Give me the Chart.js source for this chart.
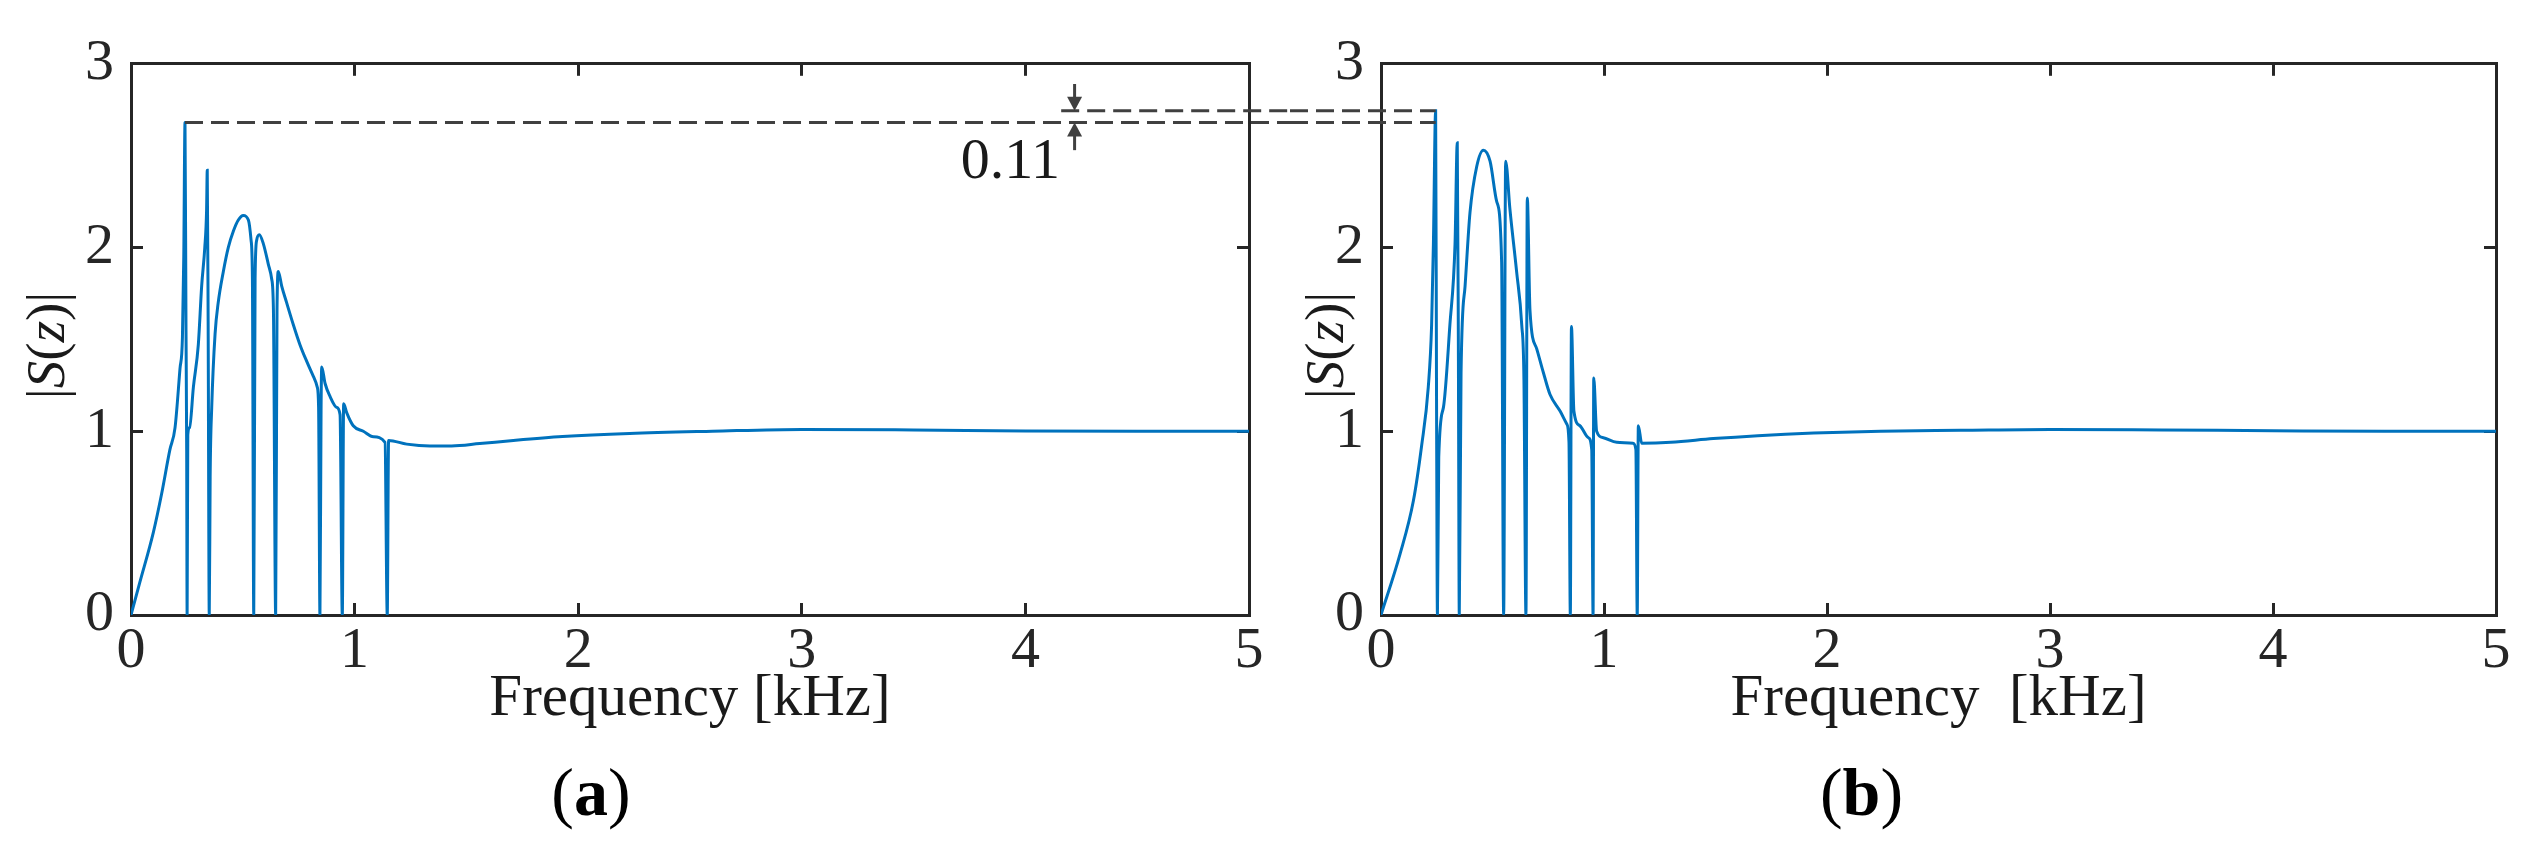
<!DOCTYPE html>
<html>
<head>
<meta charset="utf-8">
<script src="https://cdn.jsdelivr.net/npm/chart.js@4.4.1/dist/chart.umd.min.js"></script>
<style>
  html, body { margin: 0; padding: 0; background: #fff; }
  #wrap { position: relative; width: 2531px; height: 849px; }
  canvas { position: absolute; top: 0; }
  #chartA { left: 0; }
  #chartB { left: 1290px; }
</style>
</head>
<body>
<div id="wrap">
  <canvas id="chartA" width="1290" height="849"></canvas>
  <canvas id="chartB" width="1241" height="849"></canvas>
</div>
<script>
// panel (a): frequency [kHz] and |S(z)|
const freqA = [0, 0.04, 0.10, 0.137, 0.174, 0.197, 0.219, 0.230, 0.236, 0.2415, 0.246, 0.249, 0.251, 0.254, 0.262,
  0.279, 0.301, 0.316, 0.330, 0.338, 0.341, 0.345, 0.350, 0.354, 0.361, 0.376, 0.390, 0.413, 0.435, 0.458, 0.480,
  0.502, 0.525, 0.537, 0.543, 0.549, 0.555, 0.562, 0.574, 0.592, 0.614, 0.629, 0.637, 0.647, 0.653, 0.659, 0.674,
  0.696, 0.726, 0.756, 0.786, 0.815, 0.833, 0.839, 0.845, 0.850, 0.853, 0.868, 0.890, 0.920, 0.935, 0.945, 0.951,
  0.965, 0.994, 1.039, 1.084, 1.136, 1.146, 1.152, 1.233, 1.337, 1.434, 1.56, 1.71, 1.93, 2.23, 2.6, 3.0, 3.5, 4.0, 4.5, 5.0];
const magA = [0, 0.18, 0.45, 0.66, 0.90, 1.02, 1.34, 1.51, 1.95, 2.68, 1.55, 0.9, 0, 0.98, 1.02,
  1.24, 1.47, 1.79, 2.0, 2.2, 2.42, 1.6, 0, 0.75, 1.13, 1.53, 1.70, 1.87, 2.00, 2.09, 2.15,
  2.175, 2.15, 2.04, 1.83, 0, 1.83, 2.04, 2.07, 2.02, 1.91, 1.83, 1.66, 0, 1.66, 1.87, 1.79,
  1.70, 1.58, 1.47, 1.38, 1.30, 1.24, 1.13, 0, 1.11, 1.35, 1.26, 1.19, 1.13, 1.09, 0, 1.15,
  1.10, 1.03, 1.00, 0.97, 0.94, 0, 0.95, 0.93, 0.92, 0.92, 0.933, 0.95, 0.971, 0.988, 1.0, 1.01, 1.007, 1.002, 1.0, 1.0];

// panel (b)
const freqB = [0, 0.085, 0.145, 0.182, 0.212, 0.227, 0.235, 0.245, 0.249, 0.253, 0.259, 0.28, 0.309, 0.332, 0.342,
  0.347, 0.351, 0.359, 0.377, 0.399, 0.429, 0.459, 0.489, 0.519, 0.541, 0.550, 0.559, 0.578, 0.608, 0.631, 0.641,
  0.650, 0.656, 0.668, 0.698, 0.728, 0.758, 0.803, 0.833, 0.843, 0.849, 0.854, 0.865, 0.892, 0.930, 0.945, 0.951,
  0.954, 0.967, 0.997, 1.057, 1.130, 1.143, 1.149, 1.154, 1.169, 1.30, 1.49, 1.69, 1.94, 2.24, 2.6, 3.0, 3.5, 4.0, 4.5, 5.0];
const magB = [0, 0.33, 0.62, 0.92, 1.24, 1.58, 2.02, 2.745, 1.2, 0, 0.86, 1.13, 1.58, 2.02, 2.57,
  1.45, 0, 1.32, 1.79, 2.19, 2.44, 2.53, 2.47, 2.25, 1.92, 0, 2.47, 2.21, 1.87, 1.58, 1.28,
  0, 2.27, 1.66, 1.45, 1.32, 1.20, 1.11, 1.04, 0.94, 0, 1.57, 1.11, 1.03, 0.965, 0.90, 0,
  1.29, 1.00, 0.965, 0.94, 0.935, 0.90, 0, 1.03, 0.935, 0.94, 0.96, 0.976, 0.99, 1.0, 1.005, 1.01, 1.007, 1.003, 1.0, 1.0];

const xTickValues = [0, 1, 2, 3, 4, 5];
const yTickValues = [0, 1, 2, 3];

// annotation between the two peaks
const gapLabel = '0.11';
const upperLineStart = 4.16;   // kHz, where the upper dashed line begins in (a)
const arrowFreq = 4.22;
const arrowTop = 2.89;
const arrowBottom = 2.53;
const gapLabelPos = [4.155, 2.38];

const AXIS = '#262626';
const TXT = '#1a1a1a';
const BLUE = '#0072BD';
const DASH = '#404040';
const SERIF = "'Liberation Serif', 'Times New Roman', serif";

Chart.defaults.font.family = SERIF;

function peakOf(freq, mag) {
    let k = 0;
    mag.forEach((v, i) => { if (v > mag[k]) k = i; });
    return { f: freq[k], v: mag[k] };
}
const peakA = peakOf(freqA, magA);
const peakB = peakOf(freqB, magB);

function drawYLabel(ctx, x, y) {
    const parts = [['|', false], ['S', true], ['(', false], ['z', true], [')', false], ['|', false]];
    ctx.save();
    ctx.translate(x, y);
    ctx.rotate(-Math.PI / 2);
    ctx.fillStyle = TXT;
    ctx.textBaseline = 'alphabetic';
    const fontFor = it => (it ? 'italic ' : '') + '55px ' + SERIF;
    let total = 0;
    const widths = parts.map(([t, it]) => {
        ctx.font = fontFor(it);
        const w = ctx.measureText(t).width;
        total += w;
        return w;
    });
    let px = -total / 2;
    parts.forEach(([t, it], i) => {
        ctx.font = fontFor(it);
        ctx.fillText(t, px, 0);
        px += widths[i];
    });
    ctx.restore();
}

function drawCaption(ctx, letter, cx, baseline) {
    const parts = [['(', ''], [letter, 'bold '], [')', '']];
    ctx.save();
    ctx.fillStyle = '#000';
    ctx.textBaseline = 'alphabetic';
    let total = 0;
    const widths = parts.map(([t, w]) => {
        ctx.font = w + '68px ' + SERIF;
        const m = ctx.measureText(t).width;
        total += m;
        return m;
    });
    let px = cx - total / 2;
    parts.forEach(([t, w], i) => {
        ctx.font = w + '68px ' + SERIF;
        ctx.fillText(t, px, baseline);
        px += widths[i];
    });
    ctx.restore();
}

function dashed(ctx, x1, y1, x2, y2) {
    ctx.beginPath();
    ctx.moveTo(x1, y1);
    ctx.lineTo(x2, y2);
    ctx.stroke();
}

function arrow(ctx, x, yFrom, yTip) {
    const dir = yTip > yFrom ? 1 : -1;
    ctx.setLineDash([]);
    ctx.beginPath();
    ctx.moveTo(x, yFrom);
    ctx.lineTo(x, yTip - dir * 10);
    ctx.stroke();
    ctx.beginPath();
    ctx.moveTo(x, yTip);
    ctx.lineTo(x - 7.5, yTip - dir * 14);
    ctx.lineTo(x + 7.5, yTip - dir * 14);
    ctx.closePath();
    ctx.fill();
}

function makeChart(id, freq, mag, cfg) {
    const axisBits = {
        type: 'linear',
        border: { display: true, color: AXIS, width: 3 },
        grid: { drawOnChartArea: false, drawTicks: true, tickLength: -12, color: AXIS, lineWidth: 3 }
    };
    const tickFont = { family: SERIF, size: 58 };

    const overlay = {
        id: 'overlay_' + id,
        afterDraw(chart) {
            const { ctx, chartArea: ca, scales: { x, y } } = chart;
            drawYLabel(ctx, cfg.yLabelX, (ca.top + ca.bottom) / 2 + 6);
            drawCaption(ctx, cfg.caption, (ca.left + ca.right) / 2 + cfg.captionShift, 815);

            ctx.save();
            ctx.strokeStyle = DASH;
            ctx.fillStyle = DASH;
            ctx.lineWidth = 3;
            ctx.setLineDash([18, 8]);
            const yLo = y.getPixelForValue(peakA.v);
            const yHi = y.getPixelForValue(peakB.v);
            if (cfg.side === 'a') {
                dashed(ctx, x.getPixelForValue(peakA.f), yLo, chart.width, yLo);
                dashed(ctx, x.getPixelForValue(upperLineStart), yHi, chart.width, yHi);
                const ax = x.getPixelForValue(arrowFreq);
                arrow(ctx, ax, y.getPixelForValue(arrowTop), yHi);
                arrow(ctx, ax, y.getPixelForValue(arrowBottom), yLo);
                ctx.fillStyle = TXT;
                ctx.font = '58px ' + SERIF;
                ctx.textAlign = 'right';
                ctx.textBaseline = 'alphabetic';
                ctx.fillText(gapLabel, x.getPixelForValue(gapLabelPos[0]), y.getPixelForValue(gapLabelPos[1]));
            } else {
                const px = x.getPixelForValue(peakB.f);
                dashed(ctx, 0, yLo, px, yLo);
                dashed(ctx, 0, yHi, px, yHi);
            }
            ctx.restore();
        }
    };

    return new Chart(document.getElementById(id), {
        type: 'line',
        data: {
            datasets: [{
                data: freq.map((f, i) => ({ x: f, y: mag[i] })),
                borderColor: BLUE,
                borderWidth: 3,
                pointRadius: 0,
                cubicInterpolationMode: 'monotone',
                fill: false,
                xAxisID: 'x',
                yAxisID: 'y'
            }]
        },
        options: {
            responsive: false,
            animation: false,
            devicePixelRatio: 1,
            layout: { padding: 0 },
            plugins: { legend: { display: false }, tooltip: { enabled: false } },
            scales: {
                x: {
                    ...axisBits,
                    position: 'bottom',
                    min: 0, max: 5,
                    afterBuildTicks: s => { s.ticks = xTickValues.map(v => ({ value: v })); },
                    afterFit: s => { s.height = 849 - 615; },
                    ticks: { font: tickFont, color: AXIS, padding: 14, maxRotation: 0, autoSkip: false },
                    title: { display: true, text: cfg.xTitle, color: TXT, font: { family: SERIF, size: 59 }, padding: { top: 0, bottom: 114 } }
                },
                xTop: {
                    ...axisBits,
                    position: 'top',
                    min: 0, max: 5,
                    afterBuildTicks: s => { s.ticks = xTickValues.map(v => ({ value: v })); },
                    afterFit: s => { s.height = 28; },
                    ticks: { display: false }
                },
                y: {
                    ...axisBits,
                    position: 'left',
                    min: 0, max: 3,
                    afterBuildTicks: s => { s.ticks = yTickValues.map(v => ({ value: v })); },
                    afterFit: s => { s.width = cfg.yWidth; },
                    ticks: { font: tickFont, color: AXIS, padding: 29 }
                },
                yRight: {
                    ...axisBits,
                    position: 'right',
                    min: 0, max: 3,
                    afterBuildTicks: s => { s.ticks = yTickValues.map(v => ({ value: v })); },
                    afterFit: s => { s.width = cfg.rightPad; },
                    ticks: { display: false }
                }
            }
        },
        plugins: [overlay]
    });
}

makeChart('chartA', freqA, magA, {
    side: 'a', caption: 'a', xTitle: 'Frequency [kHz]',
    yWidth: 131, rightPad: 41, yLabelX: 64, captionShift: -99
});
makeChart('chartB', freqB, magB, {
    side: 'b', caption: 'b', xTitle: 'Frequency  [kHz]',
    yWidth: 91, rightPad: 35, yLabelX: 53, captionShift: -77
});
</script>
</body>
</html>
